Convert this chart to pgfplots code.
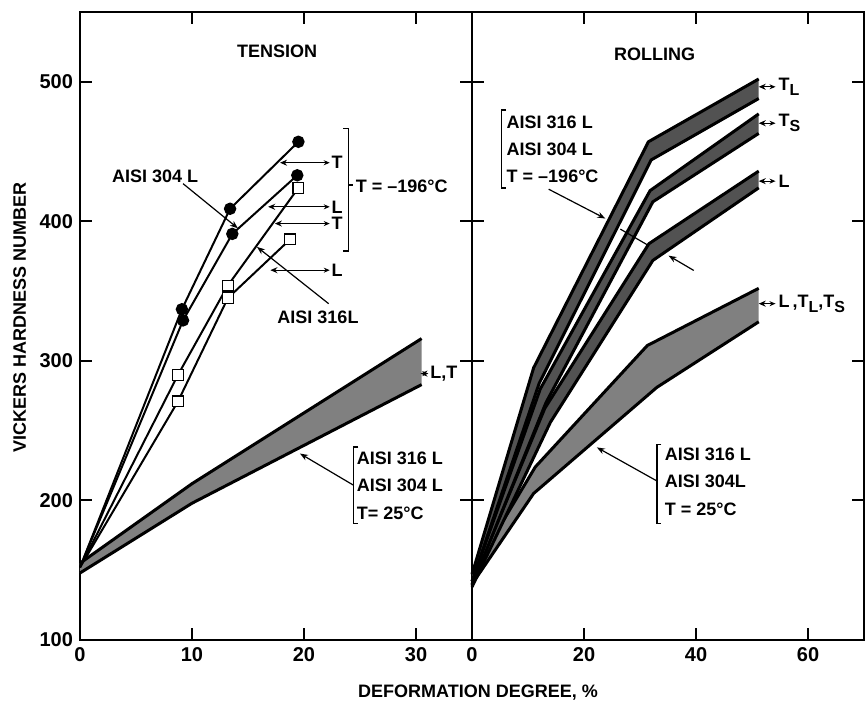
\documentclass[border=0pt]{standalone}
\usepackage{fontspec}
\setmainfont{Liberation Sans}
\usepackage{pgfplots}
\pgfplotsset{compat=1.18}
\usetikzlibrary{arrows.meta}
\newcommand\lab{\fontsize{9}{10.8}\selectfont\bfseries}
\newcommand\sub[1]{\raisebox{-0.55ex}{\fontsize{8}{9}\selectfont\bfseries #1}}
\pgfplotsset{
  panel/.style={
    scale only axis, width=196pt, height=314pt,
    ymin=100, ymax=550,
    ytick={100,200,300,400,500},
    tick align=inside, xtick pos=both, ytick pos=both,
    major tick length=6pt,
    axis line style={line width=1pt},
    every tick/.style={line width=1pt, black},
    tick label style={font=\fontsize{10}{12}\selectfont\bfseries},
    /pgf/number format/assume math mode=true,
    clip=false,
  },
}
\tikzset{
  bandfill/.style={fill=black!50, draw=none},
  nbandfill/.style={fill=black!68, draw=none},
  edge/.style={line width=1.5pt, black},
  ptr/.style={line width=0.6pt, {Stealth[length=3.5pt,width=3pt]}-{Stealth[length=3pt,width=2.5pt]}},
  arr/.style={line width=0.6pt, -{Stealth[length=4pt,width=3pt,open]}},
  brk/.style={line width=0.7pt},
}
\begin{document}
\begin{tikzpicture}
\useasboundingbox (-40pt,-30.5pt) rectangle (393pt,320pt);
% ---------------- TENSION ----------------
\begin{axis}[panel, name=L, xmin=0, xmax=35, xtick={0,10,20,30},
  ylabel={VICKERS HARDNESS NUMBER},
  ylabel style={font=\lab, at={(axis description cs:-0.154,0.514)}, anchor=center}]
  % T = 25 C band
  \addplot[bandfill] coordinates {(0,155)(10,212)(30.5,316)(30.5,283)(10,198)(0,148)} -- cycle;
  \addplot[edge] coordinates {(0,155)(10,212)(30.5,316)};
  \addplot[edge] coordinates {(0,148)(10,198)(30.5,283)};
  % T = -196 C, AISI 304L (filled circles)
  \addplot[line width=1pt, mark=*, mark size=2.6pt, mark indices={2,3,4}] coordinates {(0,152)(9.1,337)(13.4,409)(19.5,457)};
  \addplot[line width=1pt, mark=*, mark size=2.6pt, mark indices={2,3,4}] coordinates {(0,152)(9.2,329)(13.6,391)(19.4,433)};
  % T = -196 C, AISI 316L (open squares)
  \addplot[line width=1pt, mark=square*, mark size=2.7pt, mark indices={2,3,4},
    mark options={fill=white, line width=0.6pt}] coordinates {(0,152)(8.75,290)(13.2,354)(19.5,424)};
  \addplot[line width=1pt, mark=square*, mark size=2.7pt, mark indices={2,3,4},
    mark options={fill=white, line width=0.6pt}] coordinates {(0,152)(8.75,271)(13.2,345)(18.75,387)};
  % annotations
  \node[font=\lab] at (17.6,521.5) {TENSION};
  \node[font=\lab] at (6.7,432) {AISI 304 L};
  \draw[arr] (9.2,427) -- (14.1,395);
  \node[font=\lab] at (21.25,331.5) {AISI 316L};
  \draw[arr] (22.2,341) -- (15.8,381.7);
  \draw[ptr] (17.86,442) -- (22.3,442); \node[font=\lab, anchor=west, inner sep=0.5pt] at (22.35,442) {T};
  \draw[ptr] (16.8,410.4) -- (22.3,410.4); \node[font=\lab, anchor=west, inner sep=0.5pt] at (22.35,410.4) {L};
  \draw[ptr] (17.4,398.4) -- (22.3,398.4); \node[font=\lab, anchor=west, inner sep=0.5pt] at (22.35,398.4) {T};
  \draw[ptr] (17.0,365) -- (22.3,365); \node[font=\lab, anchor=west, inner sep=0.5pt] at (22.35,365) {L};
  \draw[brk] (23.5,466.5) -- (23.96,466.5) -- (23.96,378.6) -- (23.5,378.6);
  \draw[brk] (23.96,426) -- (24.4,426);
  \node[font=\lab, anchor=west, inner sep=0.5pt] at (24.5,425) {T = --196°C};
  \draw[ptr] (30.4,290.9) -- (31.1,290.9); \node[font=\lab, anchor=west, inner sep=0.5pt] at (31.15,290.9) {L,T};
  \draw[brk] (24.85,238.4) -- (24.4,238.4) -- (24.4,183.4) -- (24.85,183.4);
  \node[font=\lab, anchor=west, inner sep=0.5pt] at (24.6,230.5) {AISI 316 L};
  \node[font=\lab, anchor=west, inner sep=0.5pt] at (24.6,210.9) {AISI 304 L};
  \node[font=\lab, anchor=west, inner sep=0.5pt] at (24.6,190.6) {T= 25°C};
  \draw[arr] (24.4,211) -- (19.64,233.6);
\end{axis}
% ---------------- ROLLING ----------------
\begin{axis}[panel, at={(L.south east)}, anchor=south west,
  xmin=0, xmax=70, xtick={0,20,40,60}, yticklabel={\mbox{}}]
  % T = 25 C band
  \addplot[bandfill] coordinates {(0,148)(11.3,224)(31.3,311)(51.2,352)(51.2,328)(33,281)(11,205)(0,140)} -- cycle;
  \addplot[edge] coordinates {(0,148)(11.3,224)(31.3,311)(51.2,352)};
  \addplot[edge] coordinates {(0,140)(11,205)(33,281)(51.2,328)};
  % L band
  \addplot[nbandfill] coordinates {(0,140)(13,266)(31.6,384)(51.2,436)(51.2,424)(32.3,372)(14,256)(0,138)} -- cycle;
  \addplot[edge] coordinates {(0,140)(13,266)(31.6,384)(51.2,436)};
  \addplot[edge] coordinates {(0,138)(14,256)(32.3,372)(51.2,424)};
  % T_S band
  \addplot[nbandfill] coordinates {(0,142)(12.2,280)(31.8,422)(51.2,477)(51.2,463)(32.3,414)(13.2,270)(0,139)} -- cycle;
  \addplot[edge] coordinates {(0,142)(12.2,280)(31.8,422)(51.2,477)};
  \addplot[edge] coordinates {(0,139)(13.2,270)(32.3,414)(51.2,463)};
  % T_L band
  \addplot[nbandfill] coordinates {(0,147)(11,295)(31.5,457)(51.2,502)(51.2,488)(32,444)(12,284)(0,142)} -- cycle;
  \addplot[edge] coordinates {(0,147)(11,295)(31.5,457)(51.2,502)};
  \addplot[edge] coordinates {(0,142)(12,284)(32,444)(51.2,488)};
  % annotations
  \node[font=\lab] at (32.6,520) {ROLLING};
  \draw[brk] (6.1,479.8) -- (5.24,479.8) -- (5.24,424) -- (6.1,424);
  \node[font=\lab, anchor=west, inner sep=0.5pt] at (5.95,470.8) {AISI 316 L};
  \node[font=\lab, anchor=west, inner sep=0.5pt] at (5.95,451.8) {AISI 304 L};
  \node[font=\lab, anchor=west, inner sep=0.5pt] at (5.95,432.4) {T = --196°C};
  \draw[arr] (13.7,423) -- (23.8,402);
  \draw[line width=0.6pt] (26.5,394.4) -- (31.55,382.6);
  \draw[arr] (39.6,364.8) -- (35.1,375.4);
  \draw[ptr] (51.2,496.4) -- (54.2,496.4); \node[font=\lab, anchor=west, inner sep=0.5pt] at (54.5,496.4) {T\sub{L}};
  \draw[ptr] (51.2,470.3) -- (54.2,470.3); \node[font=\lab, anchor=west, inner sep=0.5pt] at (54.5,470.3) {T\sub{S}};
  \draw[ptr] (51.2,428.8) -- (54.2,428.8); \node[font=\lab, anchor=west, inner sep=0.5pt] at (54.5,428.8) {L};
  \draw[ptr] (51.2,341) -- (54.2,341); \node[font=\lab, anchor=west, inner sep=0.5pt] at (54.5,341) {L\,,T\sub{L},T\sub{S}};
  \draw[brk] (33.8,240.2) -- (33,240.2) -- (33,183.3) -- (33.8,183.3);
  \node[font=\lab, anchor=west, inner sep=0.5pt] at (34.2,233) {AISI 316 L};
  \node[font=\lab, anchor=west, inner sep=0.5pt] at (34.2,214) {AISI 304L};
  \node[font=\lab, anchor=west, inner sep=0.5pt] at (34.2,193.6) {T = 25°C};
  \draw[arr] (33,214) -- (22.3,238);
\end{axis}
\node[font=\lab] at (199pt,-26.5pt) {DEFORMATION DEGREE, \%};
\end{tikzpicture}
\end{document}
